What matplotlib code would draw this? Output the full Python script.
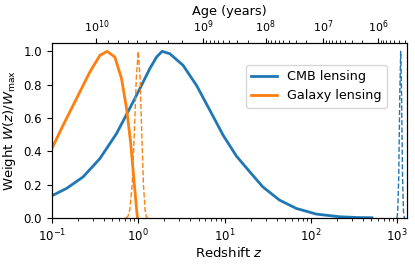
import numpy as np
import matplotlib
matplotlib.use("Agg")
import matplotlib.pyplot as plt
from matplotlib.ticker import NullFormatter

## values (redshift, normalised weight)
cmb_z = [0.1, 0.148, 0.23, 0.36, 0.561, 0.873, 1.14, 1.36, 1.63, 1.89, 2.32, 3.31,
         4.73, 6.75, 9.62, 13.7, 19.6, 27.7, 43.2, 67.5, 115, 214, 350, 510]
cmb_w = [0.134, 0.178, 0.247, 0.357, 0.507, 0.697, 0.816, 0.896, 0.966, 1.0, 0.986,
         0.916, 0.796, 0.647, 0.497, 0.372, 0.277, 0.187, 0.108, 0.058, 0.024, 0.008,
         0.003, 0.002]

cmb_src_z = [990, 1010, 1040, 1070, 1095, 1120, 1150, 1180, 1210]
cmb_src_w = [0.0, 0.03, 0.25, 0.75, 1.0, 0.75, 0.25, 0.04, 0.0]

gal_z = [0.1, 0.135, 0.193, 0.275, 0.36, 0.436, 0.536, 0.641, 0.733, 0.815, 0.889,
         0.955, 0.98]
gal_w = [0.417, 0.557, 0.717, 0.876, 0.976, 1.0, 0.966, 0.836, 0.657, 0.457, 0.238,
         0.058, 0.0]

gal_src_z = [0.72, 0.76, 0.80, 0.85, 0.90, 0.95, 1.0, 1.05, 1.10, 1.15, 1.20, 1.24, 1.28]
gal_src_w = [0.0, 0.01, 0.05, 0.2, 0.5, 0.84, 1.0, 0.84, 0.5, 0.2, 0.05, 0.01, 0.0]

age_major = [1e10, 1e9, 1e8, 1e7, 1e6]


def age_of_z(z, H0=67.7, Om=0.31, Orad=9.0e-5):
	"""age of the universe (years) at redshift z, flat LCDM + radiation"""
	OL = 1.0 - Om - Orad
	lna = np.linspace(np.log(1e-9), 0, 20000)
	a = np.exp(lna)
	H = H0 * np.sqrt(Om / a**3 + Orad / a**4 + OL)
	integrand = 1.0 / H  # dt = dlna / H
	t = np.concatenate([[0], np.cumsum(0.5 * (integrand[1:] + integrand[:-1]) * np.diff(lna))])
	t = t * 977.8e9  # 1/(km/s/Mpc) -> years
	return np.interp(np.log(1.0 / (1.0 + np.asarray(z))), lna, t)


def z_of_age(age):
	zz = np.logspace(-3, 4, 4000)
	tt = age_of_z(zz)
	return np.interp(np.log(age), np.log(tt[::-1]), zz[::-1])


fig = plt.figure(figsize=(4.15, 2.64), dpi=100)
ax = fig.add_axes([0.125, 0.174, 0.856, 0.663])

ax.plot(cmb_z, cmb_w, color="C0", lw=2, label="CMB lensing")
ax.plot(gal_z, gal_w, color="C1", lw=2, label="Galaxy lensing")
ax.plot(cmb_src_z, cmb_src_w, color="C0", lw=1, ls="--")
ax.plot(gal_src_z, gal_src_w, color="C1", lw=1, ls="--")

ax.set_xscale("log")
ax.set_xlim(0.1, 1300)
ax.set_ylim(0, 1.05)
ax.set_yticks([0.0, 0.2, 0.4, 0.6, 0.8, 1.0])
ax.set_xlabel("Redshift $z$", fontsize=9.5, labelpad=1)
ax.set_ylabel("Weight $W(z)/W_{\\rm max}$", fontsize=9.5)
ax.tick_params(labelsize=8.5)
ax.legend(loc="upper right", bbox_to_anchor=(0.942, 0.875), borderaxespad=0,
	fontsize=9.2, handlelength=2.0)

## top axis: age of the universe
ax2 = ax.twiny()
ax2.set_xscale("log")
ax2.set_xlim(ax.get_xlim())
ax2.set_xticks(z_of_age(age_major))
ax2.set_xticklabels(["$10^{%d}$" % int(np.log10(a)) for a in age_major])
minor_ages = []
for dec in [1e9, 1e8, 1e7, 1e6, 1e5]:
	for m in range(2, 10):
		minor_ages.append(m * dec)
minor_z = [z for z in z_of_age(minor_ages) if 0.1 < z < 1300]
ax2.set_xticks(minor_z, minor=True)
ax2.xaxis.set_minor_formatter(NullFormatter())
ax2.tick_params(labelsize=8, pad=2.5)
ax2.set_xlabel("Age (years)", fontsize=9.3, labelpad=2)

fig.savefig("out.png", dpi=100)
